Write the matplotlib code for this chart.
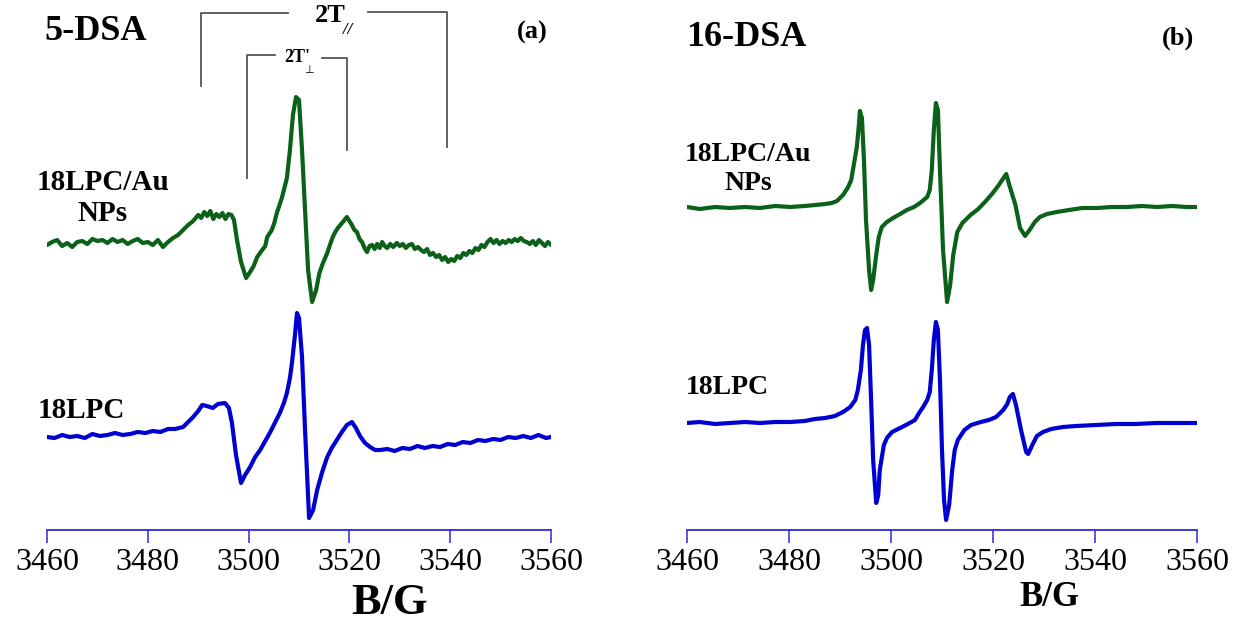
import matplotlib
matplotlib.use("Agg")
import matplotlib.pyplot as plt
import numpy as np

# ---------------- data (field in G, signal in arbitrary units) ----------------
ticks = [3460, 3480, 3500, 3520, 3540, 3560]

# 5-DSA, 18LPC/Au NPs
b5_np = [3460, 3461, 3462, 3463, 3464, 3465, 3466, 3467, 3468, 3469,
         3470, 3471, 3472, 3473, 3474, 3475, 3476, 3477, 3478, 3479,
         3480, 3481, 3482, 3483, 3484, 3485, 3486,
         3487.0, 3488.0, 3489.0, 3490.0, 3490.6, 3491.2, 3491.8, 3492.4, 3493.0, 3493.6,
         3494.2, 3494.8, 3495.4, 3496.0, 3496.6, 3497.1, 3497.7, 3498.5, 3499.5, 3500.3,
         3501.0, 3501.7, 3502.7, 3503.3, 3503.7, 3504.6, 3505.1, 3505.6, 3506.6, 3507.6,
         3508.2, 3508.8, 3509.4, 3510.0, 3510.6, 3511.2, 3511.8, 3512.6, 3513.4, 3514.0,
         3514.6, 3515.1, 3515.6, 3516.2, 3516.7, 3517.2, 3517.7, 3518.2, 3518.7, 3519.5,
         3520.0, 3520.5, 3521.0, 3521.5, 3522.0,
         3522.5, 3523.0, 3523.5, 3524.0, 3524.5, 3525.0, 3525.5, 3526.0, 3526.5, 3527.0,
         3527.5, 3528.1, 3528.7, 3529.4, 3530.0, 3530.6, 3531.2, 3531.8, 3532.4, 3533.0,
         3533.6, 3534.2, 3534.8, 3535.4, 3536.0, 3536.6, 3537.2, 3537.8, 3538.4, 3539.0,
         3539.6, 3540.2, 3540.8, 3541.4, 3542.0, 3542.6, 3543.2, 3543.8, 3544.4, 3545.0,
         3545.6, 3546.2, 3546.8, 3547.4, 3548.0, 3548.6, 3549.2, 3549.8, 3550.4, 3551.0,
         3551.6, 3552.2, 3552.8, 3553.4, 3554.0, 3554.6, 3555.2, 3555.8, 3556.4, 3557.0,
         3557.6, 3558.2, 3558.8, 3559.4, 3560.0]
s5_np = [-3, 0, 2, -4, -1, -5, 0, 1, -2, 3,
         1, 2, -1, 3, 0, 2, -2, 1, 3, -1,
         0, -3, 2, -5, 0, 4, 7,
         12, 17, 21, 27, 24, 30, 26, 31, 23, 28,
         25, 29, 23, 28, 27, 22, 2, -20, -36, -30,
         -24, -15, -8, -4, 5, 12, 19, 29, 44, 64,
         92, 127, 145, 142, 92, 32, -28, -60, -48, -32,
         -23, -17, -11, -2, 5, 10, 14, 17, 20, 25,
         21, 17, 12, 10, 3,
         0, -6, -10, -4, -3, -7, -2, -6, 0, -4,
         -6, -2, -5, -1, -4, -2, -6, -3, -2, -7,
         -5, -8, -10, -7, -13, -11, -15, -13, -18, -15,
         -20, -17, -19, -14, -16, -11, -13, -9, -11, -6,
         -8, -3, -5, 0, 3, -1, 2, -2, 1, -1,
         2, 0, 3, 1, 4, 1, 0, -2, 1, -3,
         2, -1, -4, 0, -3]

# 5-DSA, 18LPC
b5_lpc = [3460.0, 3461.5, 3463.0, 3464.5, 3466.0, 3467.5, 3469.0, 3470.5, 3472.0, 3473.5,
          3475.0, 3476.5, 3478.0, 3479.5, 3481.0, 3482.5, 3484.0, 3485.4, 3487.0,
          3488.0, 3489.0, 3490.0, 3490.8, 3491.7, 3492.9, 3493.9, 3495.3, 3496.1, 3496.7,
          3497.5, 3498.5, 3499.3, 3500.3, 3501.3, 3502.3, 3503.3, 3504.2, 3505.2, 3506.2,
          3507.0, 3507.6, 3508.2, 3508.6, 3509.2, 3509.6, 3510.0, 3510.6, 3511.2, 3512.0,
          3512.8, 3513.6, 3514.6, 3515.6, 3516.5, 3517.5, 3518.5, 3519.5, 3520.5, 3521.3,
          3522.1, 3523.1, 3524.1, 3525.1, 3526.1,
          3527.5, 3529.0, 3530.5, 3532.0, 3533.5, 3535.0, 3536.5, 3538.0, 3539.5, 3541.0,
          3542.5, 3544.0, 3545.5, 3547.0, 3548.5, 3550.0, 3551.5, 3553.0, 3554.5, 3556.0,
          3557.5, 3559.0, 3560.0]
s5_lpc = [0, -1, 2, 0, 1, -1, 3, 1, 2, 4,
          2, 3, 5, 4, 6, 5, 8, 8, 10,
          15, 20, 26, 32, 31, 29, 33, 34, 29, 14,
          -18, -46, -38, -30, -20, -13, -4, 4, 14, 24,
          34, 44, 59, 74, 102, 124, 119, 80, 7, -81,
          -73, -53, -35, -20, -11, -3, 5, 12, 15, 9,
          1, -6, -10, -13, -13,
          -12, -14, -11, -12, -9, -11, -9, -10, -7, -8,
          -5, -6, -3, -4, -2, -3, 0, -1, 1, -1,
          2, -1, 0]

# 16-DSA, 18LPC/Au NPs
b16_np = [3460.0, 3462.5, 3465.5, 3468.4, 3471.4, 3474.3, 3477.3, 3480.2, 3483.1, 3485.1,
          3487.1, 3488.4, 3489.4, 3490.6, 3491.6, 3492.2, 3492.7, 3493.3, 3493.7, 3493.9,
          3494.3, 3494.7, 3495.1, 3495.7, 3496.1, 3496.5, 3497.1, 3497.6, 3498.2, 3499.2,
          3500.4, 3501.8, 3503.1, 3504.5, 3505.7, 3507.1, 3507.6, 3508.0, 3508.4, 3508.8,
          3509.2, 3509.6, 3510.2, 3511.0, 3511.6, 3512.2, 3513.0, 3514.0, 3515.6, 3517.1,
          3518.6, 3519.8, 3521.0, 3521.8, 3522.6, 3523.2, 3524.4, 3525.3, 3526.3, 3527.3,
          3528.2, 3529.2, 3530.6, 3532.5, 3534.9, 3537.5, 3540.4, 3543.3, 3546.3, 3549.2,
          3552.2, 3555.1, 3558.0, 3560.0]
s16_np = [0, -2, 0, -1, 0, -1, 1, 0, 1, 2,
          3, 4, 6, 12, 20, 27, 42, 60, 82, 96,
          89, 47, -13, -63, -83, -73, -48, -30, -20, -15,
          -11, -7, -3, 0, 4, 10, 17, 37, 77, 104,
          97, 37, -43, -95, -78, -48, -25, -16, -8, -2,
          6, 13, 21, 27, 33, 22, 2, -21, -29, -22,
          -15, -10, -7, -5, -3, -1, -1, 0, 0, 1,
          0, 1, 0, 0]

# 16-DSA, 18LPC
b16_lpc = [3460.0, 3462.5, 3465.5, 3468.4, 3471.4, 3474.3, 3477.3, 3480.2, 3483.1, 3485.1,
           3487.1, 3489.0, 3490.6, 3492.0, 3493.0, 3493.5, 3494.1, 3494.5, 3494.9, 3495.3,
           3495.7, 3496.1, 3496.5, 3497.1, 3497.5, 3497.8, 3498.6, 3499.2, 3500.2, 3501.8,
           3503.3, 3504.7, 3505.5, 3506.3, 3507.1, 3507.6, 3508.0, 3508.4, 3508.8, 3509.2,
           3509.6, 3510.0, 3510.4, 3510.8, 3511.4, 3512.0, 3512.5, 3513.1, 3514.4, 3515.7,
           3517.6, 3519.2, 3520.6, 3522.0, 3522.8, 3523.3, 3523.9, 3524.5, 3525.5, 3526.5,
           3526.9, 3527.7, 3528.6, 3529.8, 3531.4, 3533.7, 3536.3, 3540.2, 3544.1, 3548.0,
           3552.0, 3555.9, 3560.0]
s16_lpc = [0, 1, -1, 0, 1, 0, 1, 1, 2, 4,
           5, 7, 11, 16, 23, 33, 53, 78, 93, 95,
           78, 23, -37, -80, -72, -47, -22, -15, -9, -5,
           -1, 3, 10, 16, 23, 31, 53, 83, 101, 93,
           43, -27, -77, -97, -82, -47, -27, -17, -7, -2,
           1, 3, 6, 13, 19, 26, 29, 18, -7, -29,
           -31, -22, -13, -9, -6, -4, -3, -2, -1, -1,
           0, 0, 0]

green = "#0b6119"
blue = "#0000d0"
axcol = "#2a2ae0"

# ---------------- figure ----------------
W, H = 1234, 623
fig = plt.figure(figsize=(W / 100, H / 100), dpi=100)
plt.rcParams['font.family'] = ['Liberation Serif', 'DejaVu Serif']

def px_axes(x0, x1, ybot):
    return fig.add_axes([x0 / W, 1 - ybot / H, (x1 - x0) / W, ybot / H])

axL = px_axes(47, 551, 530)
axR = px_axes(687, 1197, 530)

def style(ax):
    ax.set_xlim(3460, 3560)
    ax.set_ylim(0, 530)
    for s in ("left", "right", "top"):
        ax.spines[s].set_visible(False)
    ax.spines["bottom"].set_color(axcol)
    ax.spines["bottom"].set_linewidth(1.3)
    ax.set_yticks([])
    ax.set_xticks(ticks)
    ax.set_xticklabels([str(t) for t in ticks])
    ax.tick_params(axis="x", direction="out", length=9, width=1.1, color=axcol,
                   labelsize=23, pad=4, labelcolor="black")
    ax.patch.set_visible(False)

style(axL)
style(axR)

def trace(ax, b, s, base, col):
    assert len(b) == len(s), (len(b), len(s))
    ax.plot(b, np.asarray(s) + base, color=col, lw=3.0, solid_joinstyle="round",
            solid_capstyle="round")

trace(axL, b5_np, s5_np, 288, green)
trace(axL, b5_lpc, s5_lpc, 93, blue)
trace(axR, b16_np, s16_np, 323, green)
trace(axR, b16_lpc, s16_lpc, 107, blue)

# brackets (2T// and 2T'perp) in left panel
bk = dict(color="#555555", lw=1.3)
axL.plot([3490.5, 3490.5, 3507.8], [444, 517, 517], **bk)
axL.plot([3523.7, 3539.4, 3539.4], [518, 518, 383], **bk)
axL.plot([3499.7, 3499.7, 3505.2], [352, 475, 475], **bk)
axL.plot([3514.6, 3519.5, 3519.5], [472, 472, 380], **bk)

def ftext(x, y, s, size, weight="bold", ha="center", va="center", **kw):
    fig.text(x / W, 1 - y / H, s, fontsize=size, fontweight=weight, ha=ha, va=va, **kw)

# 2T// label
ftext(330, 16, "2T", 19)
ftext(348, 30, "//", 12, style="italic")
# 2T'perp label
ftext(297, 57, "2T'", 13)
ftext(309, 70, "\u22a5", 8, weight="normal", family=["DejaVu Sans"])

# panel titles
ftext(96, 32, "5-DSA", 26)
ftext(532, 32, "(a)", 19)
ftext(746, 38, "16-DSA", 26)
ftext(1178, 38, "(b)", 19)

# sample labels
ftext(103, 198, "18LPC/Au\nNPs", 21, linespacing=1.15)
ftext(81, 410, "18LPC", 21)
ftext(748, 169, "18LPC/Au\nNPs", 20, linespacing=1.25)
ftext(727, 387, "18LPC", 20)

# axis labels
ftext(390, 603, "B/G", 32)
ftext(1049, 598, "B/G", 25)

fig.savefig("out.png", dpi=100)
